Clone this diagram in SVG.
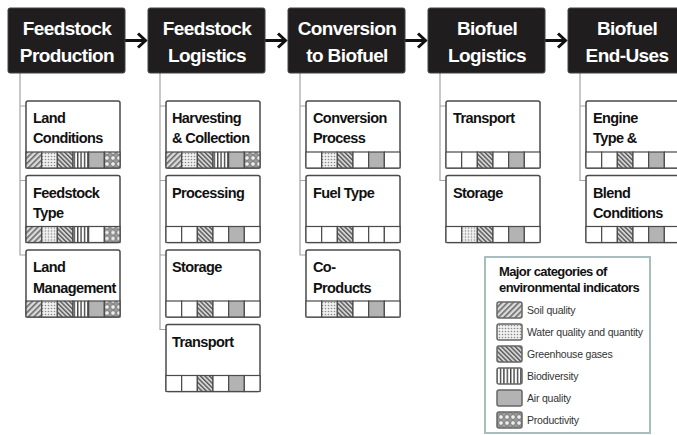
<svg xmlns="http://www.w3.org/2000/svg" width="677" height="435" viewBox="0 0 677 435">
<style>
.hb{fill:#1f1d1d;stroke:#444;stroke-width:1}
.ht{fill:#fff;font-family:"Liberation Sans",Arial,sans-serif;font-weight:bold;font-size:19px;letter-spacing:-0.6px;text-anchor:middle}
.bx{fill:#fff;stroke:#4a4a4a;stroke-width:1.5}
.bt{fill:#111;font-family:"Liberation Sans",Arial,sans-serif;font-weight:bold;font-size:14.5px;letter-spacing:-0.6px}
.c,.s,.w,.g,.b,.a,.p{stroke:#4a4a4a;stroke-width:1.2}
.c{fill:#fff}.s{fill:url(#ps)}.w{fill:url(#pw)}.g{fill:url(#pg)}.b{fill:url(#pb)}.a{fill:#b3b3b3}.p{fill:url(#pp)}
.ln{fill:none;stroke:#a3a3a3;stroke-width:1.2}
.ar{fill:none;stroke:#111;stroke-width:3}
.lt{fill:#111;font-family:"Liberation Sans",Arial,sans-serif;font-weight:bold;font-size:13px;letter-spacing:-0.6px}
.li{fill:#333;font-family:"Liberation Sans",Arial,sans-serif;font-size:10.5px;letter-spacing:-0.2px}
.sw{stroke:#666;stroke-width:1.5}
</style>
<defs>
<pattern id="ps" width="4" height="4" patternUnits="userSpaceOnUse" patternTransform="rotate(45)"><rect width="4" height="4" fill="#dcdcdc"/><rect width="1.6" height="4" fill="#6a6a6a"/></pattern>
<pattern id="pg" width="3.2" height="3.2" patternUnits="userSpaceOnUse" patternTransform="rotate(-45)"><rect width="3.2" height="3.2" fill="#d6d6d6"/><rect width="1.4" height="3.2" fill="#5a5a5a"/></pattern>
<pattern id="pw" width="3" height="3" patternUnits="userSpaceOnUse"><rect width="3" height="3" fill="#f0f0f0"/><circle cx="1.5" cy="1.5" r="0.8" fill="#8a8a8a"/></pattern>
<pattern id="pb" width="3.4" height="4" patternUnits="userSpaceOnUse"><rect width="3.4" height="4" fill="#fff"/><rect width="1.4" height="4" fill="#444"/></pattern>
<pattern id="pp" width="6" height="6" patternUnits="userSpaceOnUse"><rect width="6" height="6" fill="#9a9a9a"/><circle cx="3" cy="3" r="2.3" fill="#efefef" stroke="#555" stroke-width="0.6"/></pattern>
</defs>

<g id="connectors">
<path class="ln" d="M20,73V255H30M20,106H30M20,180.5H30"/>
<path class="ln" d="M160,73V329.5H170M160,106H170M160,180.5H170M160,255H170"/>
<path class="ln" d="M300,73V255H310M300,106H310M300,180.5H310"/>
<path class="ln" d="M440,73V180.5H450M440,106H450"/>
<path class="ln" d="M580,73V180.5H590M580,106H590"/>
<path class="ar" d="M125,40.5H145M138,33.5L145.5,40.5L138,47.5"/>
<path class="ar" d="M265,40.5H285M278,33.5L285.5,40.5L278,47.5"/>
<path class="ar" d="M405,40.5H425M418,33.5L425.5,40.5L418,47.5"/>
<path class="ar" d="M545,40.5H565M558,33.5L565.5,40.5L558,47.5"/>
</g>

<g id="h1"><rect class="hb" x="8" y="8" width="117" height="65" rx="2"/><text class="ht" x="67" y="35">Feedstock</text><text class="ht" x="67" y="62">Production</text></g>
<g id="h2"><rect class="hb" x="148" y="8" width="117" height="65" rx="2"/><text class="ht" x="207" y="35">Feedstock</text><text class="ht" x="207" y="62">Logistics</text></g>
<g id="h3"><rect class="hb" x="288" y="8" width="117" height="65" rx="2"/><text class="ht" x="347" y="35">Conversion</text><text class="ht" x="347" y="62">to Biofuel</text></g>
<g id="h4"><rect class="hb" x="428" y="8" width="117" height="65" rx="2"/><text class="ht" x="487" y="35">Biofuel</text><text class="ht" x="487" y="62">Logistics</text></g>
<g id="h5"><rect class="hb" x="568" y="8" width="117" height="65" rx="2"/><text class="ht" x="627" y="35">Biofuel</text><text class="ht" x="627" y="62">End-Uses</text></g>

<g id="n1" transform="translate(26,101)"><rect class="bx" width="94" height="67" rx="2"/><text class="bt" x="7" y="22">Land</text><text class="bt" x="7" y="42">Conditions</text>
<rect class="s" x="0" y="51" width="15.67" height="16"/><rect class="w" x="15.67" y="51" width="15.67" height="16"/><rect class="g" x="31.33" y="51" width="15.67" height="16"/><rect class="b" x="47" y="51" width="15.67" height="16"/><rect class="a" x="62.67" y="51" width="15.67" height="16"/><rect class="p" x="78.33" y="51" width="15.67" height="16"/></g>
<g id="n2" transform="translate(26,175.5)"><rect class="bx" width="94" height="67" rx="2"/><text class="bt" x="7" y="22">Feedstock</text><text class="bt" x="7" y="42">Type</text>
<rect class="s" x="0" y="51" width="15.67" height="16"/><rect class="w" x="15.67" y="51" width="15.67" height="16"/><rect class="g" x="31.33" y="51" width="15.67" height="16"/><rect class="b" x="47" y="51" width="15.67" height="16"/><rect class="c" x="62.67" y="51" width="15.67" height="16"/><rect class="p" x="78.33" y="51" width="15.67" height="16"/></g>
<g id="n3" transform="translate(26,250)"><rect class="bx" width="94" height="67" rx="2"/><text class="bt" x="7" y="22">Land</text><text class="bt" x="7" y="43">Management</text>
<rect class="s" x="0" y="51" width="15.67" height="16"/><rect class="w" x="15.67" y="51" width="15.67" height="16"/><rect class="g" x="31.33" y="51" width="15.67" height="16"/><rect class="b" x="47" y="51" width="15.67" height="16"/><rect class="a" x="62.67" y="51" width="15.67" height="16"/><rect class="p" x="78.33" y="51" width="15.67" height="16"/></g>

<g id="n4" transform="translate(166,101)"><rect class="bx" width="94" height="67" rx="2"/><text class="bt" x="6" y="22">Harvesting</text><text class="bt" x="6" y="42">&amp; Collection</text>
<rect class="s" x="0" y="51" width="15.67" height="16"/><rect class="w" x="15.67" y="51" width="15.67" height="16"/><rect class="g" x="31.33" y="51" width="15.67" height="16"/><rect class="b" x="47" y="51" width="15.67" height="16"/><rect class="a" x="62.67" y="51" width="15.67" height="16"/><rect class="p" x="78.33" y="51" width="15.67" height="16"/></g>
<g id="n5" transform="translate(166,175.5)"><rect class="bx" width="94" height="67" rx="2"/><text class="bt" x="6" y="22">Processing</text>
<rect class="c" x="0" y="51" width="15.67" height="16"/><rect class="c" x="15.67" y="51" width="15.67" height="16"/><rect class="g" x="31.33" y="51" width="15.67" height="16"/><rect class="c" x="47" y="51" width="15.67" height="16"/><rect class="a" x="62.67" y="51" width="15.67" height="16"/><rect class="c" x="78.33" y="51" width="15.67" height="16"/></g>
<g id="n6" transform="translate(166,250)"><rect class="bx" width="94" height="67" rx="2"/><text class="bt" x="6" y="22">Storage</text>
<rect class="c" x="0" y="51" width="15.67" height="16"/><rect class="c" x="15.67" y="51" width="15.67" height="16"/><rect class="g" x="31.33" y="51" width="15.67" height="16"/><rect class="c" x="47" y="51" width="15.67" height="16"/><rect class="a" x="62.67" y="51" width="15.67" height="16"/><rect class="c" x="78.33" y="51" width="15.67" height="16"/></g>
<g id="n7" transform="translate(166,324.5)"><rect class="bx" width="94" height="67" rx="2"/><text class="bt" x="6" y="22">Transport</text>
<rect class="c" x="0" y="51" width="15.67" height="16"/><rect class="c" x="15.67" y="51" width="15.67" height="16"/><rect class="g" x="31.33" y="51" width="15.67" height="16"/><rect class="c" x="47" y="51" width="15.67" height="16"/><rect class="a" x="62.67" y="51" width="15.67" height="16"/><rect class="c" x="78.33" y="51" width="15.67" height="16"/></g>

<g id="n8" transform="translate(306,101)"><rect class="bx" width="94" height="67" rx="2"/><text class="bt" x="7" y="22">Conversion</text><text class="bt" x="7" y="42">Process</text>
<rect class="c" x="0" y="51" width="15.67" height="16"/><rect class="w" x="15.67" y="51" width="15.67" height="16"/><rect class="g" x="31.33" y="51" width="15.67" height="16"/><rect class="c" x="47" y="51" width="15.67" height="16"/><rect class="a" x="62.67" y="51" width="15.67" height="16"/><rect class="c" x="78.33" y="51" width="15.67" height="16"/></g>
<g id="n9" transform="translate(306,175.5)"><rect class="bx" width="94" height="67" rx="2"/><text class="bt" x="7" y="22">Fuel Type</text>
<rect class="c" x="0" y="51" width="15.67" height="16"/><rect class="c" x="15.67" y="51" width="15.67" height="16"/><rect class="g" x="31.33" y="51" width="15.67" height="16"/><rect class="c" x="47" y="51" width="15.67" height="16"/><rect class="c" x="62.67" y="51" width="15.67" height="16"/><rect class="c" x="78.33" y="51" width="15.67" height="16"/></g>
<g id="n10" transform="translate(306,250)"><rect class="bx" width="94" height="67" rx="2"/><text class="bt" x="7" y="22">Co-</text><text class="bt" x="7" y="43">Products</text>
<rect class="c" x="0" y="51" width="15.67" height="16"/><rect class="w" x="15.67" y="51" width="15.67" height="16"/><rect class="g" x="31.33" y="51" width="15.67" height="16"/><rect class="c" x="47" y="51" width="15.67" height="16"/><rect class="a" x="62.67" y="51" width="15.67" height="16"/><rect class="c" x="78.33" y="51" width="15.67" height="16"/></g>

<g id="n11" transform="translate(446,101)"><rect class="bx" width="94" height="67" rx="2"/><text class="bt" x="7" y="22">Transport</text>
<rect class="c" x="0" y="51" width="15.67" height="16"/><rect class="c" x="15.67" y="51" width="15.67" height="16"/><rect class="g" x="31.33" y="51" width="15.67" height="16"/><rect class="c" x="47" y="51" width="15.67" height="16"/><rect class="a" x="62.67" y="51" width="15.67" height="16"/><rect class="c" x="78.33" y="51" width="15.67" height="16"/></g>
<g id="n12" transform="translate(446,175.5)"><rect class="bx" width="94" height="67" rx="2"/><text class="bt" x="7" y="22">Storage</text>
<rect class="c" x="0" y="51" width="15.67" height="16"/><rect class="w" x="15.67" y="51" width="15.67" height="16"/><rect class="g" x="31.33" y="51" width="15.67" height="16"/><rect class="c" x="47" y="51" width="15.67" height="16"/><rect class="a" x="62.67" y="51" width="15.67" height="16"/><rect class="c" x="78.33" y="51" width="15.67" height="16"/></g>

<g id="n13" transform="translate(586,101)"><rect class="bx" width="94" height="67" rx="2"/><text class="bt" x="7" y="22">Engine</text><text class="bt" x="7" y="42">Type &amp;</text>
<rect class="c" x="0" y="51" width="15.67" height="16"/><rect class="c" x="15.67" y="51" width="15.67" height="16"/><rect class="g" x="31.33" y="51" width="15.67" height="16"/><rect class="c" x="47" y="51" width="15.67" height="16"/><rect class="a" x="62.67" y="51" width="15.67" height="16"/><rect class="c" x="78.33" y="51" width="15.67" height="16"/></g>
<g id="n14" transform="translate(586,175.5)"><rect class="bx" width="94" height="67" rx="2"/><text class="bt" x="7" y="22">Blend</text><text class="bt" x="7" y="42">Conditions</text>
<rect class="c" x="0" y="51" width="15.67" height="16"/><rect class="c" x="15.67" y="51" width="15.67" height="16"/><rect class="g" x="31.33" y="51" width="15.67" height="16"/><rect class="c" x="47" y="51" width="15.67" height="16"/><rect class="a" x="62.67" y="51" width="15.67" height="16"/><rect class="c" x="78.33" y="51" width="15.67" height="16"/></g>

<g id="legend">
<rect x="485" y="257" width="165" height="176" fill="#fff" stroke="#a9bcc0" stroke-width="2"/>
<text class="lt" x="499" y="276">Major categories of</text>
<text class="lt" x="499" y="292">environmental indicators</text>
<rect class="sw" x="497" y="302" width="25" height="16" rx="2" fill="url(#ps)"/><text class="li" x="527" y="314">Soil quality</text>
<rect class="sw" x="497" y="324" width="25" height="16" rx="2" fill="url(#pw)"/><text class="li" x="527" y="336">Water quality and quantity</text>
<rect class="sw" x="497" y="346" width="25" height="16" rx="2" fill="url(#pg)"/><text class="li" x="527" y="358">Greenhouse gases</text>
<rect class="sw" x="497" y="368" width="25" height="16" rx="2" fill="url(#pb)"/><text class="li" x="527" y="380">Biodiversity</text>
<rect class="sw" x="497" y="390" width="25" height="16" rx="2" fill="#b3b3b3"/><text class="li" x="527" y="402">Air quality</text>
<rect class="sw" x="497" y="412" width="25" height="16" rx="2" fill="url(#pp)"/><text class="li" x="527" y="424">Productivity</text>
</g>
</svg>
